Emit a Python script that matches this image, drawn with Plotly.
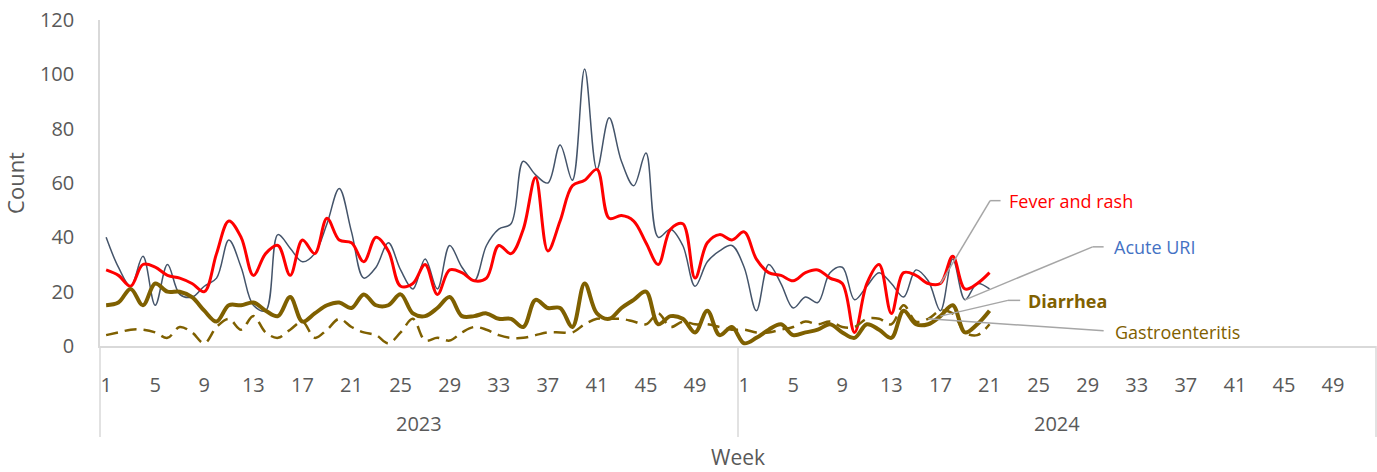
import plotly.graph_objects as go

# ---------------- data ----------------
years = ["2023", "2024"]
weeks_per_year = 52
weeks_2023 = list(range(1, 53))
weeks_2024 = list(range(1, 22))
tick_weeks = list(range(1, 53, 4))

uri_2023 = [40, 29, 22, 33, 15, 30, 19, 18, 22, 25, 39, 29, 15, 13, 41, 36, 31, 34, 45, 58,
            42, 25, 29, 38, 28, 21, 32, 21, 37, 29, 24, 37, 43, 45, 68, 63, 60, 74, 61, 102,
            65, 84, 68, 59, 71, 40, 43, 37, 22, 31, 35, 37]
uri_2024 = [29, 13, 30, 23, 14, 18, 16, 27, 29, 17, 22, 27, 23, 18, 28, 24, 13, 32, 17, 23, 21]

fever_2023 = [28, 26, 22, 30, 29, 26, 25, 23, 20, 34, 46, 40, 26, 34, 37, 26, 39, 34, 47, 39,
              38, 31, 40, 35, 22, 23, 30, 19, 28, 27, 24, 25, 37, 34, 43, 62, 35, 46, 59, 61,
              65, 47, 48, 46, 38, 30, 43, 45, 25, 38, 41, 39]
fever_2024 = [42, 32, 27, 26, 24, 27, 28, 25, 23, 5, 23, 30, 12, 27, 26, 23, 23, 33, 21, 23, 27]

diarrhea_2023 = [15, 16, 21, 15, 23, 20, 20, 18, 13, 9, 15, 15, 16, 13, 11, 18, 9, 12, 15, 16,
                 14, 19, 15, 15, 19, 12, 11, 14, 18, 11, 11, 12, 10, 10, 7, 17, 14, 14, 7, 23,
                 12, 10, 14, 17, 20, 8, 11, 10, 5, 13, 4, 7]
diarrhea_2024 = [1, 3, 6, 8, 4, 5, 6, 8, 5, 3, 8, 6, 3, 13, 8, 8, 11, 15, 5, 8, 13]

gastro_2023 = [4, 5, 6, 6, 5, 3, 7, 5, 1, 7, 10, 6, 11, 5, 3, 6, 9, 3, 6, 10,
               7, 5, 4, 1, 5, 10, 2, 3, 2, 5, 7, 6, 4, 3, 3, 4, 5, 5, 5, 8,
               10, 10, 10, 9, 8, 12, 7, 9, 8, 8, 7, 6]
gastro_2024 = [6, 5, 5, 6, 7, 9, 8, 9, 7, 7, 10, 10, 8, 15, 9, 10, 13, 12, 5, 4, 8]

# ---------------- positions on a continuous category index ----------------
x_idx = [w - 1 for w in weeks_2023] + [weeks_per_year + w - 1 for w in weeks_2024]
n_cat = weeks_per_year * len(years)

tickvals = []
ticktext = []
for yi in range(len(years)):
    for w in tick_weeks:
        tickvals.append(yi * weeks_per_year + w - 1)
        ticktext.append(str(w))

series = {
    "Acute URI": (uri_2023 + uri_2024, dict(color="#44546A", width=1.5)),
    "Fever and rash": (fever_2023 + fever_2024, dict(color="#FF0000", width=3)),
    "Gastroenteritis": (gastro_2023 + gastro_2024, dict(color="#7F6000", width=2.5, dash="12px,7px")),
    "Diarrhea": (diarrhea_2023 + diarrhea_2024, dict(color="#7F6000", width=4)),
}

fig = go.Figure()
for name, (vals, line) in series.items():
    fig.add_trace(go.Scatter(x=x_idx, y=vals, mode="lines", name=name,
                             line=dict(shape="spline", smoothing=1.0, **line)))

FONT = "Open Sans, DejaVu Sans, sans-serif"
GREY = "#595959"
AXIS = "#D9D9D9"
LEADER = "#A6A6A6"

fig.update_layout(
    width=1377, height=472,
    margin=dict(l=100, r=1, t=20, b=126, autoexpand=False),
    paper_bgcolor="white", plot_bgcolor="white",
    showlegend=False,
    font=dict(family=FONT, color=GREY),
)
fig.update_xaxes(range=[-0.5, n_cat - 0.5], tickvals=tickvals, ticktext=ticktext, automargin=False,
                 showgrid=False, zeroline=False, showline=True, linecolor=AXIS, linewidth=1.5,
                 ticks="", tickfont=dict(size=20, color=GREY), ticklabelstandoff=20)
fig.update_yaxes(range=[0, 120], tickvals=list(range(0, 121, 20)), automargin=False,
                 showgrid=False, zeroline=False, showline=True, linecolor=AXIS, linewidth=1.5,
                 ticks="", tickfont=dict(size=20, color=GREY), ticklabelstandoff=20,
                 title=dict(text="Count", font=dict(size=22, color=GREY), standoff=14))

# category group dividers (years) below the axis
plot_h = 472 - 20 - 126
div_bottom = -(437 - 346) / plot_h
for xp in [0.0, 0.5, 1.0]:
    fig.add_shape(type="line", xref="paper", yref="paper", x0=xp, x1=xp, y0=0, y1=div_bottom,
                  line=dict(color=AXIS, width=1.5))

for yi, yr in enumerate(years):
    fig.add_annotation(x=yi * weeks_per_year + (weeks_per_year - 1) / 2, xref="x",
                       y=-(423 - 346) / plot_h, yref="paper", text=yr, showarrow=False,
                       font=dict(size=20, color=GREY), yanchor="middle")

fig.add_annotation(x=0.5, xref="paper", y=-(457 - 346) / plot_h, yref="paper", text="Week",
                   showarrow=False, font=dict(size=21, color=GREY), yanchor="middle")

# leader-line labels
def label(series_name, week_2024, elbow, end, text_pos, text, color, bold=False):
    vals = series[series_name][0]
    i = weeks_per_year + week_2024 - 1
    px, py = i, vals[len(weeks_2023) + week_2024 - 1]
    fig.add_shape(type="line", xref="x", yref="y", x0=px, y0=py, x1=elbow[0], y1=elbow[1],
                  line=dict(color=LEADER, width=1.5))
    if end is not None:
        fig.add_shape(type="line", xref="x", yref="y", x0=elbow[0], y0=elbow[1], x1=end, y1=elbow[1],
                      line=dict(color=LEADER, width=1.5))
    fig.add_annotation(x=text_pos[0], y=text_pos[1], xref="x", yref="y", xanchor="left",
                       yanchor="middle", showarrow=False,
                       text=f"<b>{text}</b>" if bold else text,
                       font=dict(size=18, color=color))

label("Fever and rash", 17, (72.05, 53.5), 72.9, (73.4, 53.5), "Fever and rash", "#FF0000")
label("Acute URI", 19, (80.4, 36.5), 81.3, (82.0, 36.5), "Acute URI", "#4472C4")
label("Diarrhea", 17, (73.5, 16.8), 74.5, (75.0, 16.5), "Diarrhea", "#7F6000", bold=True)
label("Gastroenteritis", 16, (81.3, 5.6), None, (82.1, 5.3), "Gastroenteritis", "#7F6000")

fig.write_html(
    "out.html",
    config={"displayModeBar": False},
    post_script="document.body.style.margin='0';document.body.style.overflow='hidden';",
)
